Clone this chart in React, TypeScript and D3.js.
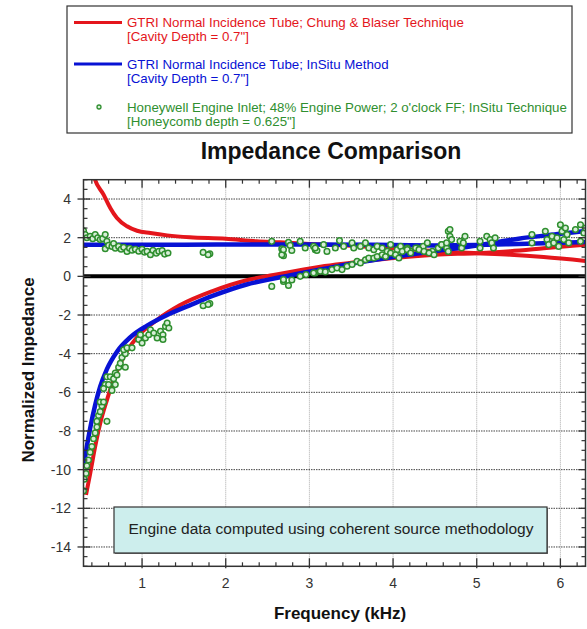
import React from 'react';
import * as d3 from 'd3';

// frequency (kHz) vs normalized impedance
const redResistance: [number, number][] = [
  [0.4, 5.6], [0.43, 5.1], [0.54, 4.23], [0.62, 3.54], [0.7, 3.02], [0.82, 2.59], [0.94, 2.36],
  [1.1, 2.24], [1.3, 2.12], [1.57, 2.02], [2.0, 1.95], [2.37, 1.81], [2.65, 1.76], [3.0, 1.68],
  [3.5, 1.58], [4.0, 1.45], [4.5, 1.3], [5.0, 1.2], [5.4, 1.12], [5.8, 1.0], [6.3, 0.8],
];
const redReactance: [number, number][] = [
  [0.33, -11.3], [0.38, -10.2], [0.44, -8.8], [0.5, -7.6], [0.58, -6.4], [0.66, -5.35], [0.78, -4.15],
  [0.94, -3.15], [1.18, -2.25], [1.45, -1.5], [1.85, -0.75], [2.25, -0.2], [2.57, 0.07], [3.13, 0.5],
  [3.5, 0.7], [4.0, 0.95], [4.5, 1.12], [5.0, 1.2], [5.4, 1.3], [5.8, 1.45], [6.3, 1.64],
];
const blueResistance: [number, number][] = [
  [0.3, 1.63], [1.0, 1.63], [2.0, 1.65], [3.0, 1.65], [4.0, 1.62], [4.5, 1.6], [5.0, 1.62],
  [5.5, 1.68], [6.0, 1.74], [6.3, 1.78],
];
const blueReactance: [number, number][] = [
  [0.3, -9.9], [0.34, -8.8], [0.38, -7.85], [0.44, -6.65], [0.5, -5.7], [0.58, -4.8], [0.7, -3.9],
  [0.86, -3.15], [1.06, -2.55], [1.3, -2.0], [1.57, -1.5], [1.85, -1.0], [2.25, -0.42], [2.65, -0.05],
  [3.13, 0.35], [3.5, 0.65], [4.0, 1.0], [4.5, 1.3], [5.0, 1.6], [5.5, 1.95], [6.0, 2.2], [6.3, 2.35],
];
const engine: [number, number][] = [
  [0.30, 2.36], [0.32, 2.16], [0.34, 2.0], [0.38, 2.07], [0.41, 1.95], [0.44, 2.16], [0.47, 2.0],
  [0.50, 1.9], [0.53, 1.95], [0.56, 2.16], [0.58, 1.81], [0.56, 1.43], [0.60, 1.6], [0.64, 1.55],
  [0.66, 1.7], [0.68, 1.45], [0.72, 1.55], [0.75, 1.4], [0.78, 1.5], [0.82, 1.29], [0.85, 1.45],
  [0.88, 1.35], [0.92, 1.4], [0.96, 1.3], [1.0, 1.4], [1.03, 1.25], [1.06, 1.29], [1.10, 1.12],
  [1.13, 1.35], [1.17, 1.2], [1.20, 1.3], [1.24, 1.33], [1.27, 1.15], [1.31, 1.21],
  [1.73, 1.24], [1.81, 1.17], [1.79, 1.12], [1.73, -1.52], [1.81, -1.41], [1.79, -1.46],
  [0.30, -11.1], [0.31, -10.5], [0.33, -10.2], [0.34, -9.8], [0.36, -9.5], [0.38, -9.1], [0.40, -8.8],
  [0.42, -8.4], [0.44, -8.1], [0.46, -7.8], [0.46, -7.5], [0.48, -7.2], [0.50, -7.0], [0.52, -6.7],
  [0.50, -6.5], [0.54, -6.5], [0.58, -7.5], [0.56, -5.6], [0.54, -5.8], [0.60, -5.6], [0.64, -5.9],
  [0.58, -5.2], [0.62, -5.2], [0.66, -5.3], [0.68, -5.6], [0.68, -5.0], [0.70, -5.1], [0.72, -4.7],
  [0.74, -4.5], [0.76, -4.2], [0.80, -4.0], [0.78, -3.8], [0.82, -3.7], [0.88, -3.7], [0.80, -4.7],
  [0.96, -3.27], [1.0, -3.45], [1.04, -3.19], [1.08, -3.02], [1.10, -2.76], [1.14, -2.93],
  [1.18, -3.19], [1.22, -2.84], [1.25, -3.02], [1.28, -2.59], [1.30, -2.41], [1.32, -2.67],
  [1.25, -3.27], [0.98, -3.02],
  [2.55, 1.81], [2.67, 1.42], [2.69, 1.07], [2.67, 1.12], [2.69, 1.38], [2.75, 1.76], [2.77, 1.6],
  [2.79, 1.34], [2.89, 1.81], [2.95, 1.47], [3.05, 1.55], [3.07, 1.38], [3.09, 1.34],
  [2.55, -0.52], [2.69, -0.26], [2.69, -0.17], [2.75, -0.47], [2.79, -0.19], [2.89, 0], [2.96, 0.09],
  [3.07, 0.17],
  [3.07, 1.47], [3.17, 1.64], [3.21, 1.29], [3.31, 1.47], [3.36, 1.85], [3.41, 1.55], [3.51, 1.73],
  [3.53, 1.47], [3.61, 1.55], [3.67, 1.73], [3.71, 1.47], [3.77, 1.38], [3.81, 1.55], [3.87, 1.47],
  [3.93, 1.29], [3.97, 1.64], [4.05, 1.38], [4.09, 1.55], [4.17, 1.47], [4.21, 1.29], [4.29, 1.47],
  [4.36, 1.55], [4.41, 1.73], [4.47, 1.29], [4.54, 1.47], [4.58, 1.64], [4.64, 1.47], [4.66, 2.33],
  [3.05, 0.17], [3.13, 0.26], [3.19, 0.23], [3.27, 0.35], [3.33, 0.43], [3.39, 0.35], [3.45, 0.52],
  [3.51, 0.61], [3.57, 0.78], [3.61, 0.69], [3.67, 0.86], [3.71, 0.95], [3.77, 0.95], [3.81, 1.03],
  [3.87, 1.12], [3.91, 1.03], [3.97, 1.21], [4.03, 1.12], [4.07, 0.95], [4.11, 1.29], [4.17, 1.38],
  [4.21, 1.21], [4.27, 1.47], [4.31, 1.38], [4.37, 1.29], [4.43, 1.21], [4.49, 1.12],
  [4.58, 1.64], [4.64, 1.73], [4.66, 1.29], [4.68, 2.42], [4.68, 2.07], [4.70, 1.90], [4.80, 1.81],
  [4.82, 1.47], [4.86, 2.07], [4.84, 1.73], [5.04, 1.81], [5.04, 1.47], [5.12, 2.07], [5.16, 1.90],
  [5.18, 1.73], [5.20, 1.47], [5.22, 1.99], [5.66, 2.16], [5.66, 1.73], [5.82, 2.33], [5.84, 1.90],
  [5.86, 1.64], [5.90, 2.07], [5.92, 1.73], [5.96, 1.99], [5.98, 1.55], [6.00, 2.67], [6.02, 2.33],
  [6.04, 1.90], [6.06, 2.50], [6.08, 2.16], [6.10, 1.73], [6.18, 2.42], [6.24, 2.67], [6.24, 1.81],
  [6.28, 2.24], [6.30, 2.50],
];

const xTicks = [1, 2, 3, 4, 5, 6];
const yTicks = [-14, -12, -10, -8, -6, -4, -2, 0, 2, 4];

const RED = '#e4161c';
const BLUE = '#0812d4';
const GREEN = '#2f8f2f';
const FONT = 'Arial, "Liberation Sans", sans-serif';

export default function App() {
  const x = d3.scaleLinear().domain([0.3, 6.3]).range([83.5, 585.5]);
  const y = d3.scaleLinear().domain([-15, 5]).range([566.3, 179.7]);
  const [x0, x1] = x.range();
  const [y0, y1] = y.range();

  const line = d3.line<[number, number]>()
    .x(d => x(d[0]))
    .y(d => y(d[1]))
    .curve(d3.curveMonotoneX);

  const xMinor = d3.range(0.4, 6.31, 0.2).filter(v => Math.abs(v - Math.round(v)) > 0.01);
  const yMinor = d3.range(-15, 5.01, 0.5).filter(v => v % 2 !== 0);

  return (
    <svg width={587} height={629} style={{ position: 'absolute', left: 0, top: 0, background: '#fff' }}
      fontFamily={FONT}>
      <defs>
        <clipPath id="plot">
          <rect x={x0} y={y1} width={x1 - x0} height={y0 - y1} />
        </clipPath>
      </defs>

      {/* legend */}
      <rect x={67} y={6} width={505} height={127} fill="#fff" stroke="#333" strokeWidth={1.2} />
      <line x1={74} x2={122} y1={22.5} y2={22.5} stroke={RED} strokeWidth={3} />
      <text x={127} y={27} fontSize={13.3} fill={RED}>GTRI Normal Incidence Tube; Chung &amp; Blaser Technique</text>
      <text x={127} y={41} fontSize={13.3} fill={RED}>[Cavity Depth = 0.7"]</text>
      <line x1={74} x2={122} y1={64} y2={64} stroke={BLUE} strokeWidth={3} />
      <text x={127} y={68.5} fontSize={13.3} fill={BLUE}>GTRI Normal Incidence Tube; InSitu Method</text>
      <text x={127} y={83} fontSize={13.3} fill={BLUE}>[Cavity Depth = 0.7"]</text>
      <circle cx={99} cy={107} r={2} fill="#d8eed8" stroke={GREEN} strokeWidth={1.3} />
      <text x={127} y={111.5} fontSize={13.3} fill={GREEN}>Honeywell Engine Inlet; 48% Engine Power; 2 o'clock FF; InSitu Technique</text>
      <text x={127} y={125.5} fontSize={13.3} fill={GREEN}>[Honeycomb depth = 0.625"]</text>

      {/* title */}
      <text x={331} y={159} textAnchor="middle" fontSize={23} fontWeight="bold" fill="#111">Impedance Comparison</text>

      {/* grid */}
      {xTicks.map(t => (
        <line key={'gx' + t} x1={x(t)} x2={x(t)} y1={y1} y2={y0} stroke="#aaa" strokeWidth={1} strokeDasharray="1,1" />
      ))}
      {yTicks.filter(t => t !== 0).map(t => (
        <line key={'gy' + t} x1={x0} x2={x1} y1={y(t)} y2={y(t)} stroke="#444" strokeWidth={1} strokeDasharray="1.5,1" />
      ))}

      {/* annotation */}
      <rect x={115} y={508} width={433} height={46} fill="#777" />
      <rect x={114} y={507} width={433} height={46} fill="#cdeeed" stroke="#333" strokeWidth={1.2} />
      <text x={331} y={534} textAnchor="middle" fontSize={15.5} fill="#222">Engine data computed using coherent source methodology</text>

      {/* data */}
      <g clipPath="url(#plot)">
        <line x1={x0} x2={x1} y1={y(0)} y2={y(0)} stroke="#000" strokeWidth={4} />
        <path d={line(redResistance) ?? ''} fill="none" stroke={RED} strokeWidth={4} />
        <path d={line(redReactance) ?? ''} fill="none" stroke={RED} strokeWidth={4} />
        <path d={line(blueResistance) ?? ''} fill="none" stroke={BLUE} strokeWidth={4.5} />
        <path d={line(blueReactance) ?? ''} fill="none" stroke={BLUE} strokeWidth={4.5} />
        {engine.map((d, i) => (
          <circle key={i} cx={x(d[0])} cy={y(d[1])} r={2.8} fill="#d8eed8" stroke={GREEN} strokeWidth={1.5} />
        ))}
      </g>

      {/* frame and ticks */}
      <rect x={x0} y={y1} width={x1 - x0} height={y0 - y1} fill="none" stroke="#333" strokeWidth={1.5} />
      {xTicks.map(t => (
        <g key={'xt' + t}>
          <line x1={x(t)} x2={x(t)} y1={y0 - 8} y2={y0 + 2} stroke="#333" strokeWidth={1.3} />
          <line x1={x(t)} x2={x(t)} y1={y1} y2={y1 + 8} stroke="#333" strokeWidth={1.3} />
          <text x={x(t)} y={588} textAnchor="middle" fontSize={14} fill="#333">{t}</text>
        </g>
      ))}
      {xMinor.map(t => (
        <g key={'xm' + t.toFixed(1)}>
          <line x1={x(t)} x2={x(t)} y1={y0 - 4} y2={y0} stroke="#333" strokeWidth={1.2} />
          <line x1={x(t)} x2={x(t)} y1={y1} y2={y1 + 4} stroke="#333" strokeWidth={1.2} />
        </g>
      ))}
      {yTicks.map(t => (
        <g key={'yt' + t}>
          <line x1={x0 - 6} x2={x0 + 7} y1={y(t)} y2={y(t)} stroke="#333" strokeWidth={1.3} />
          <line x1={x1 - 7} x2={x1} y1={y(t)} y2={y(t)} stroke="#333" strokeWidth={1.3} />
          <text x={71} y={y(t) + 5} textAnchor="end" fontSize={14} fill="#333">{t}</text>
        </g>
      ))}
      {yMinor.map(t => (
        <g key={'ym' + t}>
          <line x1={x0} x2={x0 + 4} y1={y(t)} y2={y(t)} stroke="#333" strokeWidth={1.2} />
          <line x1={x1 - 4} x2={x1} y1={y(t)} y2={y(t)} stroke="#333" strokeWidth={1.2} />
        </g>
      ))}

      {/* axis titles */}
      <text x={340} y={619} textAnchor="middle" fontSize={17} fontWeight="bold" fill="#111">Frequency (kHz)</text>
      <text transform="translate(34,370) rotate(-90)" textAnchor="middle" fontSize={17} fontWeight="bold" fill="#111">Normalized Impedance</text>
    </svg>
  );
}
